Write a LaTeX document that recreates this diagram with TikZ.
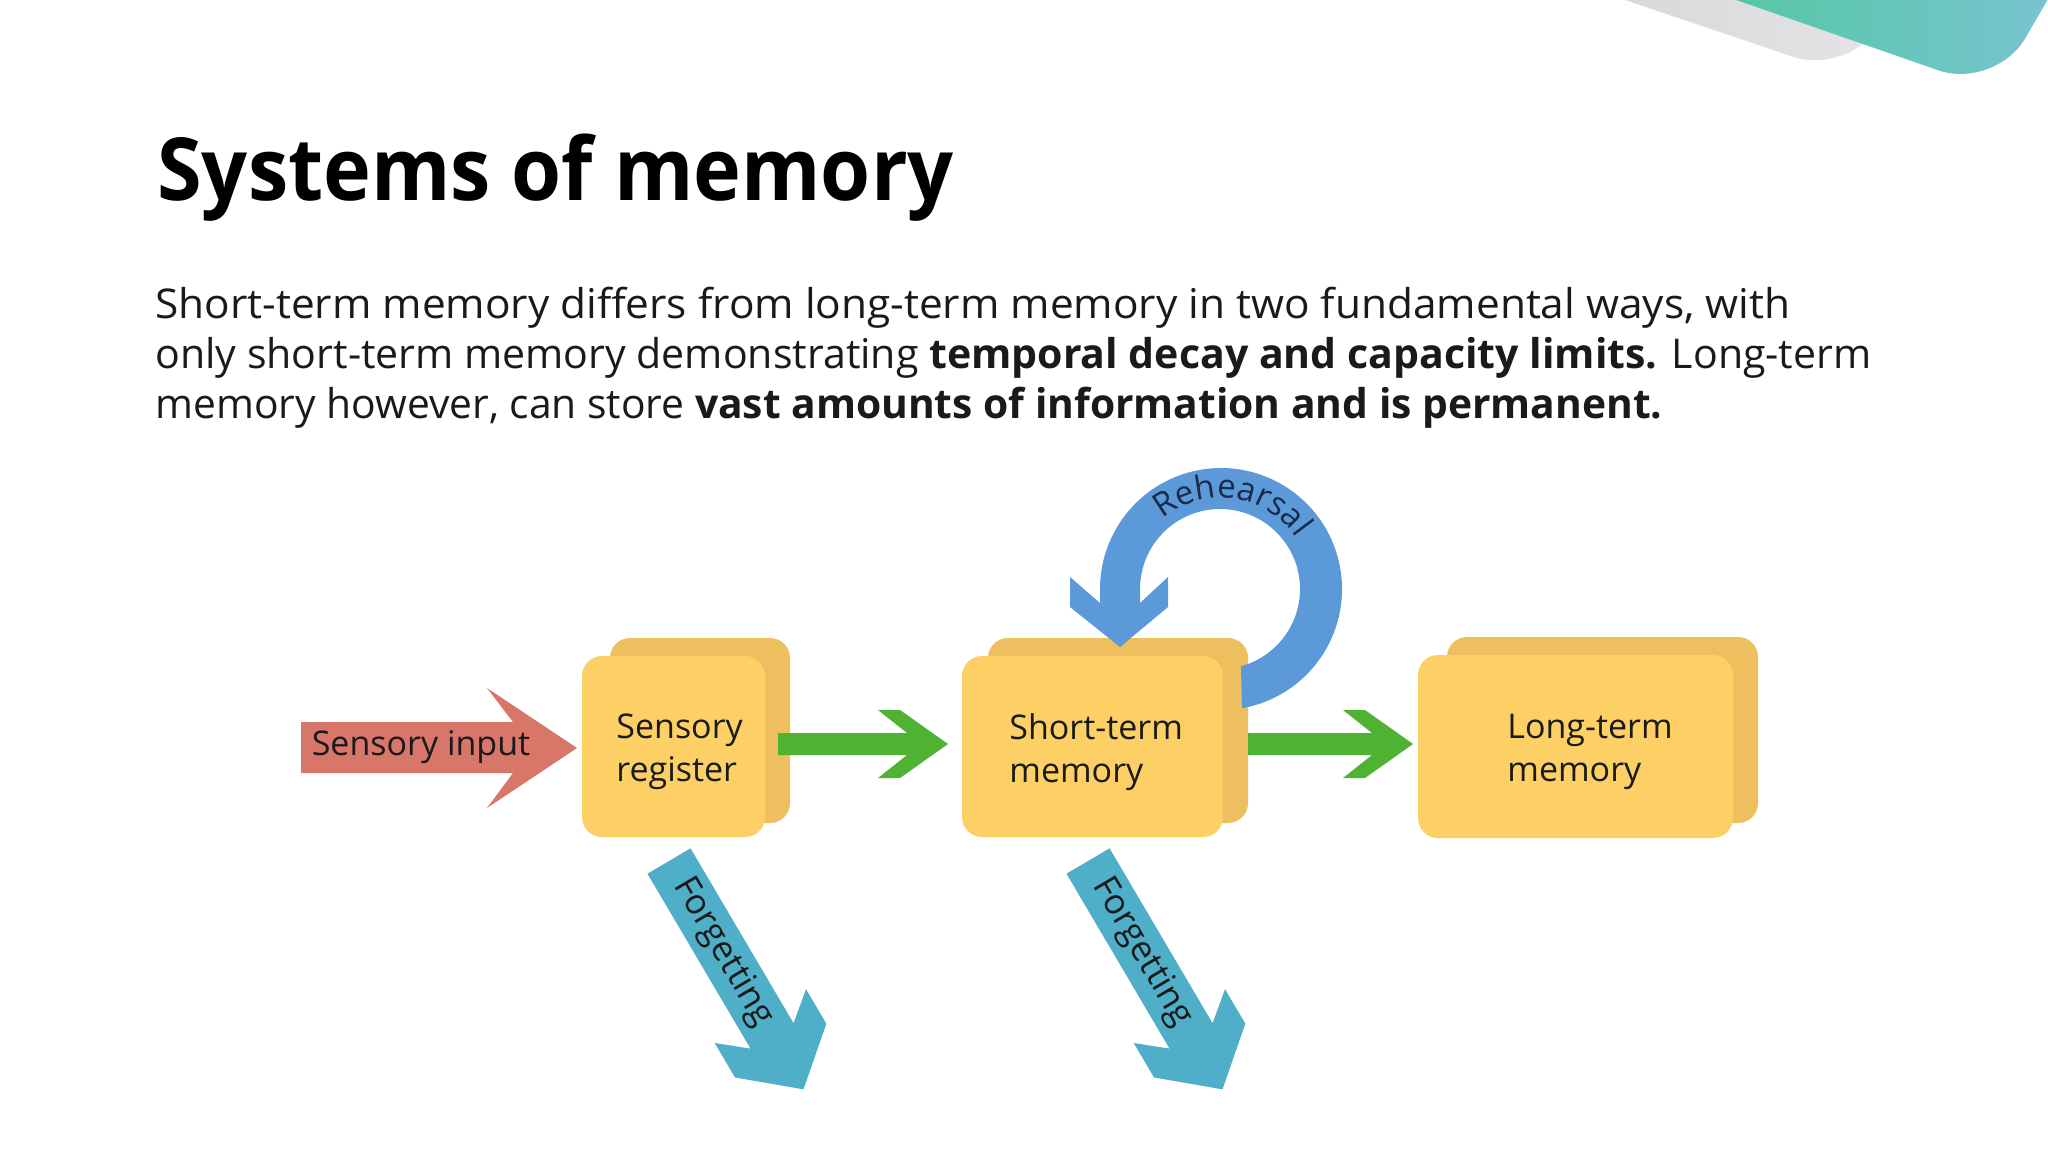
\documentclass[tikz,border=0pt]{standalone}
\usepackage{fontspec}
\usepackage{graphicx}
\setmainfont{Open Sans}
\usetikzlibrary{decorations.text}
\definecolor{boxfront}{HTML}{FCD064}
\definecolor{boxback}{HTML}{EDBF5E}
\definecolor{inred}{HTML}{D9766A}
\definecolor{flowgreen}{HTML}{4FB233}
\definecolor{ringblue}{HTML}{5B99D9}
\definecolor{forgetteal}{HTML}{50AFC8}
\definecolor{txtdark}{HTML}{1A1A1A}
\definecolor{navytext}{HTML}{1B2A4A}
\definecolor{decogreen}{HTML}{4EC89B}
\definecolor{decoteal}{HTML}{7EC3D8}
\definecolor{decogray}{HTML}{D6D6D8}
\definecolor{decograyl}{HTML}{E8E8EA}
\newcommand\rehfont{\fontsize{16.5}{16.5}\selectfont\color{navytext}}
\tikzset{
  backbox/.style={fill=boxback, rounded corners=10pt, inner sep=0pt},
  frontbox/.style={fill=boxfront, rounded corners=10pt, inner sep=0pt},
  boxtext/.style={font=\fontsize{17}{21.5}\selectfont, align=left, text=txtdark, inner sep=0pt},
  arrowtext/.style={font=\fontsize{17}{20}\selectfont, text=txtdark, inner sep=0pt},
  bodytext/.style={font=\fontsize{20.5}{25}\selectfont, text=txtdark, inner sep=0pt, anchor=base west},
}
\begin{document}
\begin{tikzpicture}[x=0.5pt,y=0.5pt]
\useasboundingbox (0,0) rectangle (2048,-1152);
\fill[white] (0,0) rectangle (2048,-1152);
% corner decoration
\begin{scope}
\clip (0,0) rectangle (2048,-1152);
\shade[left color=decogray, right color=decograyl, rounded corners=30pt]
  (1560,22) -- (1850,-76) -- (1960,110) -- cycle;
\shade[shading angle=60, left color=decogreen, right color=decoteal, rounded corners=30pt]
  (1670,23) -- (1995,-90) -- (2100,90) -- cycle;
\end{scope}
% title and body
\node[font=\fontsize{43.5}{50}\selectfont\bfseries, anchor=base west, inner sep=0pt] (title) at (157,-200) {\scalebox{0.93}[1]{Systems of memory}};
\node[bodytext] (l1) at (155,-318) {\resizebox{817.5pt}{\height}{Short-term memory differs from long-term memory in two fundamental ways, with}};
\node[bodytext] (l2) at (155,-368) {\resizebox{858pt}{\height}{only short-term memory demonstrating \textbf{temporal decay and capacity limits.} Long-term}};
\node[bodytext] (l3) at (155,-418) {\resizebox{753.5pt}{\height}{memory however, can store \textbf{vast amounts of information and is permanent.}}};
% boxes (back)
\node[backbox, minimum width=90pt, minimum height=92.5pt] (srb) at (700,-730.5) {};
\node[backbox, minimum width=130pt, minimum height=92.5pt] (stb) at (1118,-730.5) {};
\node[backbox, minimum width=155.5pt, minimum height=93pt] (ltb) at (1602.5,-730) {};
% rehearsal ring
\fill[ringblue] (1242,-708.2) arc[start angle=-80, end angle=180, radius=121]
  -- (1100,-603) -- (1070,-577) -- (1070,-607) -- (1120,-647) -- (1168,-607)
  -- (1168,-577) -- (1140,-603) -- (1140,-589)
  arc[start angle=180, end angle=-74.8, radius=80] -- cycle;
\path[decorate, decoration={text along path, text={|\rehfont|Rehearsal}, text align=center}]
  (1135.5,-557.9) arc[start angle=160, end angle=4, radius=91];
% front boxes
\node[frontbox, minimum width=91.5pt, minimum height=90.5pt] (srf) at (673.5,-746.5) {};
\node[frontbox, minimum width=130.5pt, minimum height=90.5pt] (stf) at (1092.5,-746.5) {};
\node[frontbox, minimum width=157.5pt, minimum height=91.5pt] (ltf) at (1575.5,-746.5) {};
\node[boxtext, anchor=west] (srt) at (616,-752) {Sensory\\register};
\node[boxtext, anchor=west] (stt) at (1009,-752) {Short-term\\memory};
\node[boxtext, anchor=west] (ltt) at (1507,-752) {Long-term\\memory};
% sensory input arrow
\fill[inred] (301,-722) -- (513,-722) -- (487,-688) -- (577,-748) -- (487,-808) -- (513,-773) -- (301,-773) -- cycle;
\node[arrowtext, anchor=base] (sit) at (421,-755) {Sensory input};
% green arrows
\fill[flowgreen] (778,-733) -- (907,-733) -- (878,-710) -- (900,-710) -- (948,-744)
  -- (900,-778) -- (878,-778) -- (907,-755) -- (778,-755) -- cycle;
\begin{scope}[xshift=465*0.5pt]
\fill[flowgreen] (783,-733) -- (907,-733) -- (878,-710) -- (900,-710) -- (948,-744)
  -- (900,-778) -- (878,-778) -- (907,-755) -- (783,-755) -- cycle;
\end{scope}
% forgetting arrows
\foreach \fx/\nm in {669/fa, 1088/fb}{
\begin{scope}[shift={(\fx,-861)}, rotate=-59.5]
\fill[forgetteal] (0,25) -- (203,25) -- (180,53) -- (220,53) -- (265,0) -- (220,-53)
  -- (180,-53) -- (203,-25) -- (0,-25) -- cycle;
\node[arrowtext, font=\fontsize{17.5}{20}\selectfont, rotate=-59.5] (\nm) at (106,0) {Forgetting};
\end{scope}
}
\end{tikzpicture}
\end{document}
